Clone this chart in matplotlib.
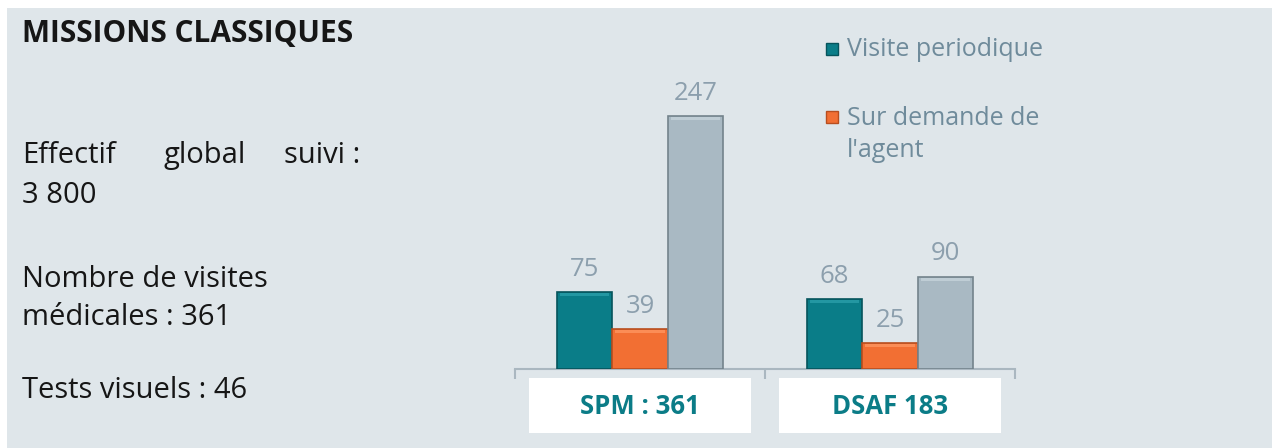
import matplotlib
matplotlib.use("Agg")
import matplotlib.pyplot as plt
from matplotlib.patches import Rectangle
from matplotlib.transforms import blended_transform_factory
import numpy as np

# ---- data ----
categories = ["SPM : 361", "DSAF 183"]
series_names = ["Visite periodique", "Sur demande de\nl'agent", "Autre"]
visite_periodique = [75, 68]
sur_demande = [39, 25]
autre = [247, 90]
series_values = [visite_periodique, sur_demande, autre]
series_colors = ["#0A7D88", "#F26F33", "#A9B9C3"]
edge_colors = ["#06545C", "#B84E1F", "#74838C"]
light_colors = ["#2FA3AE", "#FF9A66", "#C9D6DE"]

title = "MISSIONS CLASSIQUES"

W, H = 1272, 448
fig = plt.figure(figsize=(W / 100, H / 100), dpi=100)
fig.patch.set_facecolor("white")

def fx(px):
    return px / W

def fy(py):
    return 1 - py / H

bg = "#DFE6EA"
fig.patches.append(Rectangle((fx(7), 0), 1 - fx(7), fy(8), transform=fig.transFigure,
                             facecolor=bg, edgecolor="none", zorder=-10))

font = ["Open Sans", "DejaVu Sans"]
txt_color = "#161616"

# ---- left text ----
fig.text(fx(22), fy(42), title, fontsize=21.5, fontweight="bold", color=txt_color,
         family=font, va="baseline", ha="left")
fig.text(fx(22), fy(163), "Effectif", fontsize=21, color=txt_color, family=font, va="baseline")
fig.text(fx(163), fy(163), "global", fontsize=21, color=txt_color, family=font, va="baseline")
fig.text(fx(360), fy(163), "suivi :", fontsize=21, color=txt_color, family=font, va="baseline", ha="right")
fig.text(fx(22), fy(203), "3 800", fontsize=21, color=txt_color, family=font, va="baseline")
fig.text(fx(22), fy(287), "Nombre de visites", fontsize=21, color=txt_color, family=font, va="baseline")
fig.text(fx(22), fy(325), "médicales : 361", fontsize=21, color=txt_color, family=font, va="baseline")
fig.text(fx(22), fy(398), "Tests visuels : 46", fontsize=21, color=txt_color, family=font, va="baseline")

# ---- axes ----
ax_left, ax_right = 515, 1015
ax_bottom, ax_top = 369, 61.8
ax = fig.add_axes([fx(ax_left), fy(ax_bottom), (ax_right - ax_left) / W, (ax_bottom - ax_top) / H])
ax.set_facecolor("none")
ax.set_xlim(-0.5, len(categories) - 0.5)
ax.set_ylim(0, 300)

x = np.arange(len(categories))
bw = 0.222
offsets = [-bw, 0, bw]
label_color = "#8C9FAD"
for vals, off, c, ec, lc in zip(series_values, offsets, series_colors, edge_colors, light_colors):
    bars = ax.bar(x + off, vals, width=bw, color=c, edgecolor=ec, linewidth=1.2, zorder=3)
    # subtle bevel highlight on top edge
    ax.bar(x + off, [3] * len(vals), bottom=np.array(vals) - 4, width=bw * 0.9,
           color=lc, edgecolor="none", zorder=4, alpha=0.7)
    for b, v in zip(bars, vals):
        ax.annotate(str(v), (b.get_x() + b.get_width() / 2, v), xytext=(0, 7.5),
                    textcoords="offset points", ha="center", va="bottom",
                    fontsize=18.5, color=label_color, family=font)

for s in ["top", "left", "right"]:
    ax.spines[s].set_visible(False)
ax.spines["bottom"].set_color("#AAB7C0")
ax.spines["bottom"].set_linewidth(1.5)
ax.set_yticks([])
ax.set_xticks(np.arange(-0.5, len(categories), 1.0))
ax.set_xticklabels([])
ax.tick_params(axis="x", direction="out", length=7, width=1.5, color="#AAB7C0")

# category labels in white boxes
tr = blended_transform_factory(ax.transData, fig.transFigure)
box_w = 0.888
for xi, cat in zip(x, categories):
    ax.add_patch(Rectangle((xi - box_w / 2, fy(433)), box_w, (433 - 378) / H, transform=tr,
                           facecolor="white", edgecolor="none", clip_on=False, zorder=2))
    ax.text(xi, fy(406), cat, transform=tr, ha="center", va="center", fontsize=18.5,
            fontweight="bold", color="#0B7C87", family=font, zorder=4)

# ---- legend (manual) ----
leg_txt = "#6F8B9B"
leg_items = [(series_names[0], 49), (series_names[1], 117)]
for (name, yc), c, ec in zip(leg_items, series_colors, edge_colors):
    fig.patches.append(Rectangle((fx(826), fy(yc + 6)), 12 / W, 12 / H, transform=fig.transFigure,
                                 facecolor=c, edgecolor=ec, linewidth=1))
    fig.text(fx(847), fy(yc - 11) if "\n" in name else fy(yc), name, fontsize=18, color=leg_txt,
             family=font, va="top" if "\n" in name else "center", ha="left", linespacing=1.36)

fig.savefig("out.png", dpi=100, facecolor=fig.get_facecolor())
